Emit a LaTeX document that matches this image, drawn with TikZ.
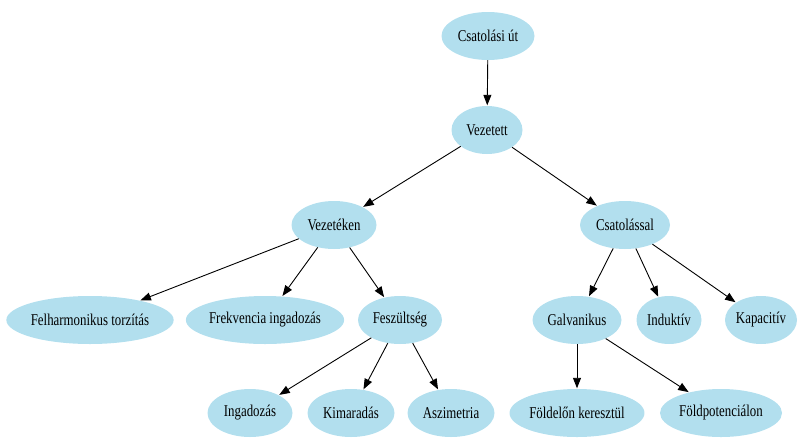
\documentclass[tikz,border=0pt]{standalone}
\usepackage{fontspec}
\usepackage{graphicx}
\setmainfont{Liberation Serif}
\usetikzlibrary{shapes.geometric,arrows.meta}
\definecolor{nodeblue}{HTML}{B2DFEE}
\newcommand{\nt}[1]{\scalebox{0.78}[1]{#1}}
\tikzset{
  gnode/.style={ellipse, fill=nodeblue, draw=none, inner sep=0pt,
    font=\fontsize{16.5}{18}\selectfont},
  gedge/.style={-{Triangle[length=10.5pt,width=8pt]}, line width=0.9pt, draw=black, shorten >=0.5pt}
}
\begin{document}
\begin{tikzpicture}[x=1pt,y=-1pt]
\useasboundingbox (0,0) rectangle (798,437);
\newcommand{\gn}[5]{\node[gnode, minimum width=#4pt, minimum height=48pt] (#1) at (#2,#3) {\nt{#5}};}
\gn{csat}{488}{36}{93}{Csatolási út}
\gn{vez}{487}{130}{71}{Vezetett}
\gn{vezk}{334}{225}{85}{Vezetéken}
\gn{csl}{625}{225}{90}{Csatolással}
\gn{felh}{90}{320}{165}{Felharmonikus torzítás}
\gn{frek}{265}{320}{156}{Frekvencia ingadozás}
\gn{fesz}{400}{320}{84}{Feszültség}
\gn{galv}{577}{320}{89}{Galvanikus}
\gn{ind}{669}{320}{65}{Induktív}
\gn{kap}{761}{320}{72}{Kapacitív}
\gn{inga}{250}{413}{85}{Ingadozás}
\gn{kim}{351}{413}{87}{Kimaradás}
\gn{asz}{451}{413}{87}{Aszimetria}
\gn{fold}{577}{413}{132}{Földelőn keresztül}
\gn{foldp}{721}{413}{122}{Földpotenciálon}
\draw[gedge] (csat) -- (vez);
\draw[gedge] (vez) -- (vezk);
\draw[gedge] (vez) -- (csl);
\draw[gedge] (vezk) -- (felh);
\draw[gedge] (vezk) -- (frek);
\draw[gedge] (vezk) -- (fesz);
\draw[gedge] (csl) -- (galv);
\draw[gedge] (csl) -- (ind);
\draw[gedge] (csl) -- (kap);
\draw[gedge] (fesz) -- (inga);
\draw[gedge] (fesz) -- (kim);
\draw[gedge] (fesz) -- (asz);
\draw[gedge] (galv) -- (fold);
\draw[gedge] (galv) -- (foldp);
\end{tikzpicture}
\end{document}
